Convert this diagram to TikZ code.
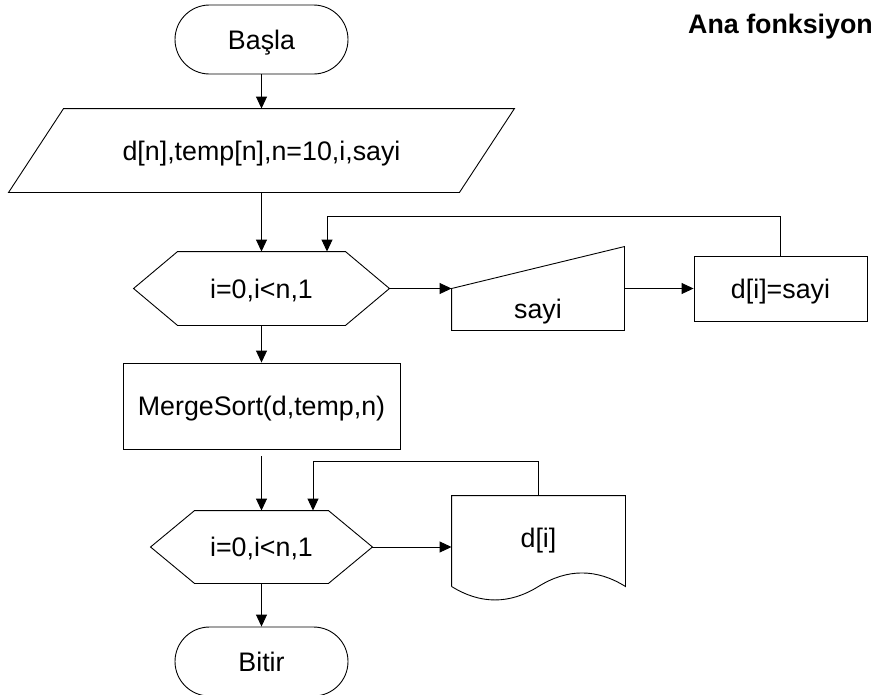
\documentclass[tikz,border=0pt]{standalone}
\usepackage{fontspec}
\setmainfont{Liberation Sans}
\usetikzlibrary{shapes.misc,arrows.meta}
\tikzset{
  txt/.style={font=\fontsize{26.8}{32}\selectfont, text height=19.2pt, text depth=0pt, inner sep=0pt, line width=0.9pt},
  term/.style={txt, draw, rounded rectangle, minimum width=173pt, minimum height=69pt},
  proc/.style={txt, draw, rectangle},
  ghost/.style={txt, rectangle},
  wire/.style={line width=0.9pt},
  conn/.style={line width=0.9pt, -{Triangle[length=12pt,width=11pt]}},
}
\begin{document}
\begin{tikzpicture}[x=1pt,y=-1pt]
\useasboundingbox (0,0) rectangle (875,694);
% title
\node[font=\fontsize{26.8}{32}\selectfont\bfseries, anchor=base west, inner sep=0pt] (title) at (688,33) {Ana fonksiyon};
% start
\node[term] (start) at (261.5,39.5) {Başla};
% declaration (parallelogram)
\node[ghost, minimum width=505pt, minimum height=83pt] (decl) at (261.5,150.5) {d[n],temp[n],n=10,i,sayi};
\draw[wire] (decl.south west) -- ([xshift=55pt]decl.north west) -- (decl.north east) -- ([xshift=-55pt]decl.south east) -- cycle;
% loop 1 (hexagon)
\node[ghost, minimum width=255pt, minimum height=73pt] (hex1) at (261.5,288.5) {i=0,i<n,1};
\draw[wire] (hex1.west) -- ([xshift=44pt]hex1.north west) -- ([xshift=-44pt]hex1.north east) -- (hex1.east) -- ([xshift=-44pt]hex1.south east) -- ([xshift=44pt]hex1.south west) -- cycle;
% manual input
\node[ghost, text height=59pt, minimum width=172pt, minimum height=83pt] (inp) at (538,288.5) {sayi};
\draw[wire] (inp.south west) -- (inp.west) -- (inp.north east) -- (inp.south east) -- cycle;
% assignment
\node[proc, minimum width=173pt, minimum height=65pt] (asg) at (780.5,288.5) {d[i]=sayi};
% merge sort
\node[proc, minimum width=277pt, minimum height=86pt] (ms) at (261.5,406) {MergeSort(d,temp,n)};
% loop 2 (hexagon)
\node[ghost, minimum width=221pt, minimum height=72pt] (hex2) at (261.5,547) {i=0,i<n,1};
\draw[wire] (hex2.west) -- ([xshift=44pt]hex2.north west) -- ([xshift=-44pt]hex2.north east) -- (hex2.east) -- ([xshift=-44pt]hex2.south east) -- ([xshift=44pt]hex2.south west) -- cycle;
% document
\node[ghost, text depth=7.2pt, minimum width=173pt, minimum height=90pt] (doc) at (538.5,541) {d[i]};
\draw[wire] (doc.south west) -- (doc.north west) -- (doc.north east) -- (doc.south east)
  .. controls ([xshift=-29pt,yshift=18pt]doc.south east) and ([xshift=-58pt,yshift=18pt]doc.south east) .. (doc.south)
  .. controls ([xshift=-29pt,yshift=-18pt]doc.south) and ([xshift=-58pt,yshift=-18pt]doc.south) .. (doc.south west);
% end
\node[term] (stop) at (261.5,661.5) {Bitir};
% loop corners
\coordinate (l1) at (327,216);
\coordinate (l2) at (313,461);
% connectors
\draw[conn] (start.south) -- (decl.north);
\draw[conn] (decl.south) -- (hex1.north);
\draw[conn] (hex1.east) -- (inp.west);
\draw[conn] (inp.east) -- (asg.west);
\draw[conn] (asg.north) |- (l1) -- (l1 |- hex1.north);
\draw[conn] (hex1.south) -- (ms.north);
\draw[conn, shorten <=7pt] (ms.south) -- (hex2.north);
\draw[conn] (hex2.east) -- (hex2.east -| doc.west);
\draw[conn] (doc.north) |- (l2) -- (l2 |- hex2.north);
\draw[conn] (hex2.south) -- (stop.north);
\end{tikzpicture}
\end{document}
